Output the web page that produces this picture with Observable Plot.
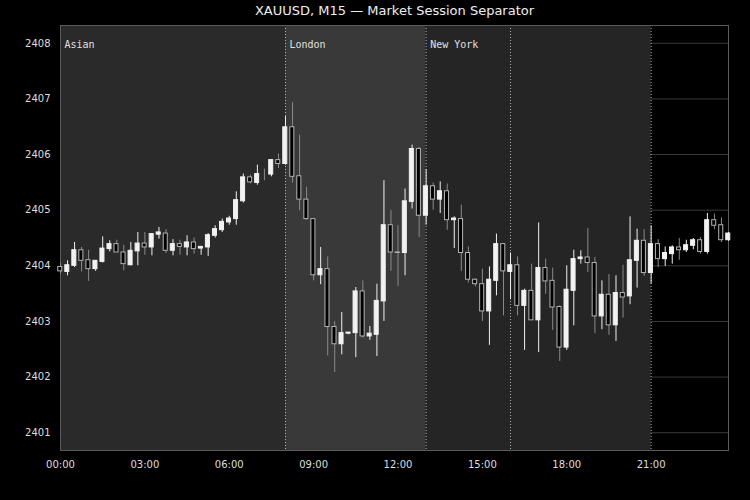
<!DOCTYPE html>
<html>
<head>
<meta charset="utf-8">
<script src="https://cdn.jsdelivr.net/npm/d3@7"></script>
<script src="https://cdn.jsdelivr.net/npm/@observablehq/plot@0.6"></script>
<style>
  html, body { margin: 0; padding: 0; background: #000; }
  #chart svg { display: block; }
</style>
</head>
<body>
<div id="chart"></div>
<script>
// ---- Data (XAUUSD M15, 96 bars from 00:00 to 23:45) ----
const barStart = "2024-01-01T00:00:00Z";
const barMinutes = 15;
const open = [
  2403.98,2403.89,2404.00,2404.28,2404.10,2403.94,2404.07,2404.30,2404.39,2404.24,2404.01,2404.26,
  2404.40,2404.33,2404.56,2404.58,2404.27,2404.39,2404.33,2404.42,2404.31,2404.33,2404.54,2404.64,
  2404.78,2404.84,2405.16,2405.59,2405.49,2405.66,2405.64,2405.90,2405.83,2406.49,2405.61,2405.19,
  2404.84,2403.83,2403.94,2402.90,2402.59,2402.78,2402.79,2403.54,2402.73,2402.76,2403.36,2404.73,
  2404.24,2404.23,2405.15,2406.10,2404.90,2405.43,2405.19,2405.34,2404.82,2404.84,2404.23,2403.75,
  2403.67,2403.18,2403.73,2404.39,2403.89,2404.01,2403.28,2403.55,2403.02,2403.96,2403.73,2403.26,
  2402.53,2403.55,2404.12,2404.15,2404.05,2403.09,2403.48,2402.93,2403.51,2403.45,2404.09,2404.45,
  2403.87,2404.39,2404.12,2404.21,2404.33,2404.28,2404.36,2404.46,2404.25,2404.82,2404.73,2404.46
];
const high = [
  2404.05,2404.09,2404.42,2404.33,2404.28,2404.09,2404.52,2404.45,2404.46,2404.37,2404.42,2404.60,
  2404.60,2404.58,2404.69,2404.65,2404.47,2404.46,2404.54,2404.50,2404.35,2404.58,2404.72,2404.84,
  2404.89,2405.33,2405.65,2405.63,2405.81,2405.74,2405.91,2406.01,2406.68,2406.93,2406.35,2405.41,
  2404.84,2404.33,2404.16,2403.00,2403.16,2402.80,2403.61,2403.73,2402.91,2403.67,2405.53,2405.00,
  2404.72,2405.38,2406.17,2406.13,2405.73,2405.49,2405.51,2405.47,2404.88,2405.09,2404.34,2403.76,
  2403.94,2403.98,2404.57,2404.39,2404.23,2404.16,2403.58,2404.03,2404.77,2404.12,2403.96,2403.28,
  2404.00,2404.28,2404.27,2404.67,2404.15,2403.73,2403.84,2403.82,2404.01,2404.88,2404.66,2404.65,
  2404.72,2404.47,2404.34,2404.36,2404.49,2404.46,2404.49,2404.51,2404.94,2404.93,2404.86,2404.60
];
const low = [
  2403.85,2403.82,2403.97,2403.89,2403.72,2403.90,2404.05,2404.25,2404.24,2403.91,2404.00,2404.00,
  2404.19,2404.18,2404.48,2404.22,2404.18,2404.19,2404.18,2404.21,2404.19,2404.17,2404.50,2404.60,
  2404.73,2404.73,2405.13,2405.47,2405.45,2405.53,2405.60,2405.75,2405.81,2405.49,2404.99,2404.82,
  2403.73,2403.66,2402.38,2402.08,2402.40,2402.76,2402.35,2402.70,2402.66,2402.37,2403.00,2403.90,
  2403.63,2403.82,2405.02,2404.51,2404.73,2405.00,2404.94,2404.64,2404.31,2403.90,2403.69,2403.62,
  2403.00,2402.57,2403.46,2403.10,2403.39,2403.10,2402.48,2403.02,2402.44,2403.49,2402.84,2402.28,
  2402.48,2402.92,2404.03,2403.88,2402.78,2402.85,2402.75,2402.64,2403.06,2403.30,2403.60,2403.81,
  2403.67,2403.97,2403.99,2404.03,2404.10,2404.24,2404.29,2404.21,2404.21,2404.65,2404.42,2404.44
];
const close = [
  2403.90,2404.01,2404.28,2404.09,2403.94,2404.09,2404.31,2404.39,2404.24,2404.03,2404.27,2404.40,
  2404.33,2404.57,2404.60,2404.27,2404.39,2404.34,2404.42,2404.30,2404.34,2404.55,2404.66,2404.79,
  2404.85,2405.18,2405.59,2405.50,2405.65,2405.66,2405.90,2405.83,2406.49,2405.60,2405.19,2404.84,
  2403.83,2403.94,2402.90,2402.59,2402.79,2402.80,2403.54,2402.73,2402.78,2403.37,2404.73,2404.24,
  2404.23,2405.16,2406.10,2404.90,2405.43,2405.19,2405.34,2404.82,2404.85,2404.23,2403.75,2403.67,
  2403.18,2403.75,2404.39,2403.90,2404.01,2403.28,2403.55,2403.02,2403.96,2403.72,2403.25,2402.53,
  2403.57,2404.12,2404.15,2404.05,2403.09,2403.48,2402.93,2403.51,2403.43,2404.10,2404.45,2403.87,
  2404.39,2404.12,2404.23,2404.33,2404.28,2404.37,2404.46,2404.25,2404.82,2404.72,2404.46,2404.58
];

// Sessions (hours of day)
const sessionNames  = ["Asian", "London", "New York", ""];
const sessionStartH = [0, 8, 13, 16];
const sessionEndH   = [8, 13, 16, 21];
const separatorH    = [8, 13, 16, 21];

const yTicks = [2401, 2402, 2403, 2404, 2405, 2406, 2407, 2408];
const xTickHours = [0, 3, 6, 9, 12, 15, 18, 21];

// ---- Build tables ----
const t0 = new Date(barStart);
const atHour = h => d3.utcMinute.offset(t0, h * 60);
const bars = open.map((o, i) => {
  const t = d3.utcMinute.offset(t0, i * barMinutes);
  return {
    t,
    t1: d3.utcMinute.offset(t, -barMinutes / 2),
    t2: d3.utcMinute.offset(t, barMinutes / 2),
    open: o, high: high[i], low: low[i], close: close[i],
    up: close[i] > o
  };
});
const sessions = sessionNames.map((name, i) => ({
  name, start: atHour(sessionStartH[i]), end: atHour(sessionEndH[i])
}));
const sessionFill = {"Asian": "#2a2a2a", "London": "#393939", "New York": "#252525", "": "#252525"};
const separators = separatorH.map(atHour);

const chart = Plot.plot({
  width: 750,
  height: 500,
  marginTop: 25,
  marginBottom: 50,
  marginLeft: 60,
  marginRight: 22,
  style: {background: "#000", color: "#ddd", fontFamily: "DejaVu Sans", fontSize: "10px"},
  x: {
    type: "utc",
    domain: [bars[0].t, bars[bars.length - 1].t],
    ticks: xTickHours.map(atHour),
    tickFormat: d3.utcFormat("%H:%M"),
    tickSize: 0,
    tickPadding: 10,
    label: null
  },
  y: {
    domain: [2400.68, 2408.32],
    ticks: yTicks,
    tickFormat: d => String(d),
    tickSize: 0,
    tickPadding: 10,
    label: null
  },
  marks: [
    Plot.ruleY(yTicks, {stroke: "#3a3a3a"}),
    Plot.rect(sessions, {x1: "start", x2: "end", fill: d => sessionFill[d.name]}),
    Plot.ruleX(separators, {stroke: "#c8c8c8", strokeDasharray: "1,2", strokeOpacity: 0.85}),
    Plot.frame({stroke: "#5a5a5a"}),
    Plot.text(sessions.filter(d => d.name), {
      x: "start", text: "name", frameAnchor: "top", lineAnchor: "middle", dy: 19, dx: 4,
      textAnchor: "start", fontFamily: "DejaVu Sans Mono", fontSize: 10, fill: "#e0e0e0"
    }),
    Plot.ruleX(bars, {x: "t", y1: "low", y2: "high", stroke: d => d.up ? "#f0f0f0" : "#8a8a8a", strokeWidth: 1}),
    Plot.rect(bars, {
      x1: "t1", x2: "t2", y1: "open", y2: "close",
      insetLeft: 1.5, insetRight: 1.5,
      fill: d => d.up ? "#f2f2f2" : "#000000",
      stroke: d => d.up ? "#f2f2f2" : "#b4b4b4",
      strokeWidth: 1
    }),
    Plot.text(["XAUUSD, M15 — Market Session Separator"], {
      frameAnchor: "top", lineAnchor: "middle", dy: -15, fontSize: 13, fill: "#eeeeee", fontFamily: "DejaVu Sans"
    })
  ]
});
document.getElementById("chart").appendChild(chart);
</script>
</body>
</html>
